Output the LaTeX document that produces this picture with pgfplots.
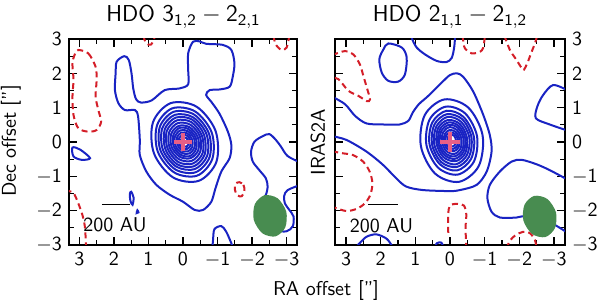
\documentclass[border=0pt]{standalone}
\usepackage{pgfplots}
\pgfplotsset{compat=1.18}
\definecolor{cblue}{RGB}{25,35,195}
\definecolor{cred}{RGB}{212,30,40}
\definecolor{cgreen}{RGB}{72,140,80}
\definecolor{cpink}{RGB}{232,95,135}
\pgfplotsset{
  panel/.style={
    scale only axis, height=103pt,
    x dir=reverse, ymin=-3, ymax=3,
    xtick={-3,-2,-1,0,1,2,3}, ytick={-3,-2,-1,0,1,2,3},
    xticklabels={$-$3,$-$2,$-$1,0,1,2,3},
    yticklabels={$-$3,$-$2,$-$1,0,1,2,3},
    minor tick num=1,
    axis line style={line width=1pt},
    every tick/.style={black, line width=0.6pt},
    major tick length=4pt, minor tick length=2.5pt,
    tick label style={font=\fontsize{10}{12}\selectfont\sffamily},
  },
  bc/.style={color=cblue, line width=1pt, smooth, tension=0.5, mark=none},
  bring/.style={color=cblue, line width=1pt, smooth cycle, tension=0.55, mark=none},
  rc/.style={color=cred, line width=1pt, dash pattern=on 3pt off 2pt, smooth, tension=0.5, mark=none},
  beam/.style={draw=none, fill=cgreen, smooth cycle, mark=none},
}
\begin{document}
\begin{tikzpicture}
\fontsize{10}{12}\selectfont\sffamily
% ---------------- left panel ----------------
\begin{axis}[panel, at={(34.5pt,29pt)}, anchor=south west, width=114pt, xmin=-3.3, xmax=3.3]
% outer contour
\addplot[bc, smooth cycle] coordinates {(1.70,2.50) (1.57,2.39) (1.49,2.00) (1.44,1.56) (1.36,1.25) (1.22,1.15) (0.91,1.21) (0.53,1.51) (0.10,1.56) (-0.15,1.68) (-0.15,2.10) (-0.15,2.58) (-0.29,2.92) (-0.48,2.93) (-0.67,2.86) (-1.15,2.83) (-1.40,2.68) (-1.49,2.29) (-1.44,1.90) (-1.35,1.61) (-1.06,1.53) (-0.77,1.51) (-0.67,1.37) (-0.82,1.17) (-1.06,0.82) (-1.30,0.30) (-1.40,-0.09) (-1.35,-0.47) (-1.11,-0.86) (-0.94,-1.35) (-0.82,-1.74) (-0.58,-1.98) (-0.34,-1.98) (0.0,-1.74) (0.38,-1.54) (0.77,-1.25) (1.06,-0.86) (1.25,-0.38) (1.25,0.06) (1.30,0.74) (1.39,0.93) (1.68,0.93) (1.87,1.13) (1.97,1.51) (1.95,2.0) (1.92,2.34)};
% rings
\addplot[bring] coordinates {(0.36,1.13) (0.87,0.57) (0.84,-0.33) (0.29,-1.03) (-0.46,-1.13) (-0.97,-0.57) (-0.94,0.33) (-0.39,1.03)};
\addplot[bring] coordinates {(0.31,0.98) (0.75,0.49) (0.73,-0.28) (0.25,-0.89) (-0.41,-0.98) (-0.85,-0.49) (-0.83,0.28) (-0.35,0.89)};
\addplot[bring] coordinates {(0.27,0.88) (0.67,0.44) (0.65,-0.25) (0.22,-0.80) (-0.37,-0.88) (-0.77,-0.44) (-0.75,0.25) (-0.32,0.80)};
\addplot[bring] coordinates {(0.24,0.79) (0.60,0.40) (0.58,-0.23) (0.19,-0.72) (-0.34,-0.79) (-0.70,-0.40) (-0.68,0.23) (-0.29,0.72)};
\addplot[bring] coordinates {(0.21,0.71) (0.53,0.36) (0.51,-0.21) (0.17,-0.65) (-0.31,-0.71) (-0.63,-0.36) (-0.61,0.21) (-0.27,0.65)};
\addplot[bring] coordinates {(0.18,0.63) (0.47,0.32) (0.45,-0.18) (0.14,-0.58) (-0.28,-0.63) (-0.57,-0.32) (-0.55,0.18) (-0.24,0.58)};
\addplot[bring] coordinates {(0.15,0.55) (0.40,0.28) (0.39,-0.16) (0.12,-0.50) (-0.25,-0.55) (-0.50,-0.28) (-0.49,0.16) (-0.22,0.50)};
\addplot[bring] coordinates {(0.12,0.47) (0.34,0.24) (0.33,-0.14) (0.09,-0.43) (-0.22,-0.47) (-0.44,-0.24) (-0.43,0.14) (-0.19,0.43)};
\addplot[bring] coordinates {(0.10,0.41) (0.28,0.20) (0.27,-0.12) (0.07,-0.37) (-0.20,-0.41) (-0.38,-0.20) (-0.37,0.12) (-0.17,0.37)};
\addplot[bring] coordinates {(0.07,0.34) (0.23,0.17) (0.22,-0.10) (0.05,-0.31) (-0.17,-0.34) (-0.33,-0.17) (-0.32,0.10) (-0.15,0.31)};
\addplot[bring] coordinates {(0.05,0.27) (0.17,0.14) (0.16,-0.08) (0.03,-0.25) (-0.15,-0.27) (-0.27,-0.14) (-0.26,0.08) (-0.13,0.25)};
\addplot[bring] coordinates {(0.02,0.20) (0.12,0.10) (0.11,-0.06) (0.01,-0.19) (-0.12,-0.20) (-0.22,-0.10) (-0.21,0.06) (-0.11,0.19)};
\addplot[bring] coordinates {(0.00,0.14) (0.06,0.07) (0.06,-0.04) (-0.01,-0.12) (-0.10,-0.14) (-0.16,-0.07) (-0.16,0.04) (-0.09,0.12)};
% other blue
\addplot[bc, smooth cycle] coordinates {(3.20,-0.16) (2.98,-0.22) (2.69,-0.47) (2.93,-0.52) (3.17,-0.42)};
\addplot[bc, smooth cycle] coordinates {(1.50,-1.45) (1.43,-1.62) (1.46,-1.83) (1.52,-1.72) (1.54,-1.52)};
\addplot[bc, smooth cycle] coordinates {(1.32,-1.99) (1.29,-2.05) (1.34,-2.07)};
\addplot[bc] coordinates {(-0.85,-3.1) (-0.87,-2.85) (-0.91,-2.54) (-1.11,-2.45) (-1.25,-2.61) (-1.40,-2.95) (-1.45,-3.1)};
\addplot[bc] coordinates {(-3.40,-0.60) (-3.03,-0.41) (-2.84,-0.14) (-2.69,0.06) (-2.50,0.23) (-2.31,0.17) (-2.07,0.01) (-1.97,-0.28) (-2.02,-0.57) (-2.21,-0.82) (-2.40,-1.06) (-2.45,-1.30) (-2.40,-1.54) (-2.31,-1.69) (-2.35,-2.10) (-2.70,-2.55) (-3.00,-2.60) (-3.18,-2.45) (-3.20,-2.17) (-3.08,-1.98) (-2.95,-1.79) (-2.93,-1.57) (-3.03,-1.40) (-3.40,-1.25)};
% red dashed
\addplot[rc, smooth cycle] coordinates {(3.03,2.68) (2.74,2.58) (2.53,2.19) (2.50,1.81) (2.53,1.32) (2.45,0.93) (2.37,0.59) (2.50,0.35) (2.74,0.30) (3.03,0.40) (3.17,0.79) (3.20,1.32) (3.17,1.81) (3.20,2.30) (3.12,2.58)};
\addplot[rc] coordinates {(1.15,3.1) (1.07,2.88) (0.92,2.84) (0.80,3.1)};
\addplot[rc] coordinates {(-2.62,3.1) (-2.68,2.85) (-2.85,2.68) (-3.0,2.75) (-3.08,3.1)};
\addplot[rc, smooth cycle] coordinates {(-1.63,-1.17) (-1.75,-1.25) (-1.78,-1.42) (-1.70,-1.58) (-1.57,-1.55) (-1.50,-1.38) (-1.52,-1.22)};
\addplot[rc] coordinates {(3.40,-1.40) (3.17,-1.49) (3.03,-1.79) (2.91,-2.13) (2.84,-2.47) (2.81,-2.95) (2.80,-3.1)};
% beam
\addplot[beam] coordinates {(-2.36,-1.55) (-2.08,-1.81) (-2.05,-2.27) (-2.30,-2.66) (-2.68,-2.75) (-2.96,-2.49) (-2.99,-2.03) (-2.74,-1.64)};
% centre
\addplot[only marks, mark=+, mark size=4.5pt, color=cpink, line width=1.8pt] coordinates {(0,0)};
% scale bar
\addplot[black, line width=0.5pt, mark=none] coordinates {(2.35,-1.83) (1.54,-1.83)};
\node at (axis cs:1.97,-2.42) {200 AU};
\end{axis}
% ---------------- right panel ----------------
\begin{axis}[panel, at={(167.5pt,29pt)}, anchor=south west, width=115pt, xmin=-3.32, xmax=3.32, yticklabel pos=right]
\addplot[bc] coordinates {(3.40,1.32) (3.03,1.10) (2.74,0.76) (2.41,0.54) (1.93,0.51) (1.45,0.51) (1.20,0.62) (1.08,0.85) (0.90,1.10) (0.63,1.34) (0.24,1.73) (0.0,1.95) (-0.2,2.0) (-0.38,1.90) (-0.67,1.47) (-0.96,0.79) (-1.15,0.20) (-1.20,-0.28) (-1.06,-0.86) (-0.77,-1.25) (-0.29,-1.40) (0.0,-1.43) (0.78,-1.40) (1.26,-1.30) (1.55,-1.06) (1.93,-0.67) (2.41,-0.28) (2.99,0.06) (3.40,0.17)};
\addplot[bring] coordinates {(0.16,1.24) (0.73,0.78) (0.84,-0.12) (0.43,-0.92) (-0.26,-1.16) (-0.83,-0.70) (-0.94,0.20) (-0.53,1.00)};
\addplot[bring] coordinates {(0.12,1.03) (0.59,0.65) (0.68,-0.09) (0.34,-0.75) (-0.22,-0.95) (-0.69,-0.57) (-0.78,0.17) (-0.44,0.83)};
\addplot[bring] coordinates {(0.10,0.91) (0.51,0.57) (0.59,-0.07) (0.29,-0.65) (-0.20,-0.83) (-0.61,-0.49) (-0.69,0.15) (-0.39,0.73)};
\addplot[bring] coordinates {(0.09,0.81) (0.45,0.51) (0.52,-0.06) (0.26,-0.58) (-0.19,-0.73) (-0.55,-0.43) (-0.62,0.14) (-0.36,0.66)};
\addplot[bring] coordinates {(0.07,0.73) (0.39,0.46) (0.46,-0.05) (0.22,-0.51) (-0.17,-0.65) (-0.49,-0.38) (-0.56,0.13) (-0.32,0.59)};
\addplot[bring] coordinates {(0.06,0.64) (0.34,0.41) (0.39,-0.04) (0.19,-0.44) (-0.16,-0.56) (-0.44,-0.33) (-0.49,0.12) (-0.29,0.52)};
\addplot[bring] coordinates {(0.04,0.57) (0.29,0.37) (0.34,-0.03) (0.16,-0.38) (-0.14,-0.49) (-0.39,-0.29) (-0.44,0.11) (-0.26,0.46)};
\addplot[bring] coordinates {(0.03,0.50) (0.25,0.32) (0.29,-0.02) (0.13,-0.33) (-0.13,-0.42) (-0.35,-0.24) (-0.39,0.10) (-0.23,0.41)};
\addplot[bring] coordinates {(0.02,0.43) (0.20,0.28) (0.23,-0.01) (0.10,-0.27) (-0.12,-0.35) (-0.30,-0.20) (-0.33,0.09) (-0.20,0.35)};
\addplot[bring] coordinates {(0.01,0.35) (0.15,0.23) (0.18,0.00) (0.07,-0.21) (-0.11,-0.27) (-0.25,-0.15) (-0.28,0.08) (-0.17,0.29)};
\addplot[bring] coordinates {(-0.01,0.28) (0.11,0.19) (0.13,0.01) (0.05,-0.15) (-0.09,-0.20) (-0.21,-0.11) (-0.23,0.07) (-0.15,0.23)};
\addplot[bring] coordinates {(-0.02,0.21) (0.06,0.14) (0.07,0.02) (0.02,-0.10) (-0.08,-0.13) (-0.16,-0.06) (-0.17,0.06) (-0.12,0.18)};
% other blue
\addplot[bc, smooth cycle] coordinates {(1.78,2.87) (1.39,2.75) (1.25,2.46) (1.30,1.97) (1.49,1.76) (1.78,1.78) (1.97,2.02) (2.04,2.41) (1.92,2.70)};
\addplot[bc] coordinates {(1.12,3.1) (1.09,2.99) (0.96,2.75) (0.72,2.55) (0.38,2.36) (0.10,2.33) (-0.05,2.45) (-0.12,2.75) (-0.15,3.1)};
\addplot[bc] coordinates {(-3.40,1.50) (-2.98,1.66) (-2.69,1.37) (-2.52,1.03) (-2.48,0.69) (-2.88,0.51) (-3.40,0.33)};
\addplot[bc] coordinates {(-3.40,-1.10) (-2.88,-0.82) (-2.50,-0.65) (-2.07,-0.52) (-1.78,-0.57) (-1.44,-0.86) (-1.15,-1.25) (-1.08,-1.64) (-1.20,-2.03) (-1.44,-2.20) (-1.92,-2.20) (-2.2,-2.15) (-2.6,-2.25) (-3.0,-2.4) (-3.40,-2.65)};
\addplot[bc] coordinates {(2.75,-3.1) (2.61,-2.95) (2.41,-2.76) (2.13,-2.69) (1.84,-2.81) (1.69,-3.0) (1.65,-3.1)};
\addplot[bc] coordinates {(0.45,-3.1) (0.38,-2.95) (0.25,-2.93) (0.18,-3.1)};
% red dashed
\addplot[rc] coordinates {(3.40,2.53) (3.03,2.65) (2.79,2.55) (2.60,2.26) (2.50,1.92) (2.40,1.58) (2.31,1.24) (2.40,1.19) (2.64,1.34) (2.93,1.49) (3.22,1.83) (3.40,1.88)};
\addplot[rc] coordinates {(3.40,-0.27) (3.09,-0.33) (2.80,-0.38) (2.51,-0.57) (2.32,-0.86) (2.24,-1.20) (2.30,-1.54) (2.46,-1.79) (2.70,-1.95) (2.99,-2.01) (3.28,-1.93) (3.40,-1.88)};
\addplot[rc] coordinates {(-0.36,3.1) (-0.38,2.97) (-0.43,2.73) (-0.63,2.58) (-0.87,2.63) (-0.96,2.75) (-1.01,3.1)};
\addplot[rc] coordinates {(-1.57,3.1) (-1.73,2.68) (-1.92,2.39) (-2.07,2.15) (-2.13,2.10) (-2.23,2.29) (-2.34,2.58) (-2.45,2.87) (-2.52,3.1)};
\addplot[rc] coordinates {(0.05,-2.65) (0.05,-2.1) (0.0,-1.85) (-0.2,-1.8) (-0.4,-1.85) (-0.47,-2.1) (-0.45,-2.5) (-0.47,-3.1)};
\addplot[rc] coordinates {(-1.62,-3.1) (-1.75,-2.85) (-1.9,-2.71) (-2.1,-2.62) (-2.3,-2.65) (-2.45,-2.85) (-2.5,-3.1)};
% beam
\addplot[beam] coordinates {(-2.43,-1.57) (-2.15,-1.83) (-2.12,-2.29) (-2.37,-2.68) (-2.75,-2.77) (-3.03,-2.51) (-3.06,-2.05) (-2.81,-1.66)};
\addplot[only marks, mark=+, mark size=5pt, color=cpink, line width=2pt] coordinates {(0,0)};
\addplot[black, line width=0.5pt, mark=none] coordinates {(2.37,-1.83) (1.50,-1.83)};
\node at (axis cs:1.98,-2.44) {200 AU};
\end{axis}
% labels
\node[anchor=base, font=\fontsize{11.5}{13}\selectfont\sffamily] at (91.75pt,140.7pt) {HDO $\mathsf{3_{1,2}-2_{2,1}}$};
\node[anchor=base, font=\fontsize{11.5}{13}\selectfont\sffamily] at (225pt,140.7pt) {HDO $\mathsf{2_{1,1}-2_{1,2}}$};
\node[rotate=90] at (5.5pt,81pt) {Dec offset ["]};
\node[rotate=90] at (159pt,80.5pt) {IRAS2A};
\node at (163pt,6pt) {RA offset ["]};
\pgfresetboundingbox
\useasboundingbox (0,0) rectangle (300pt,151.5pt);
\end{tikzpicture}
\end{document}
